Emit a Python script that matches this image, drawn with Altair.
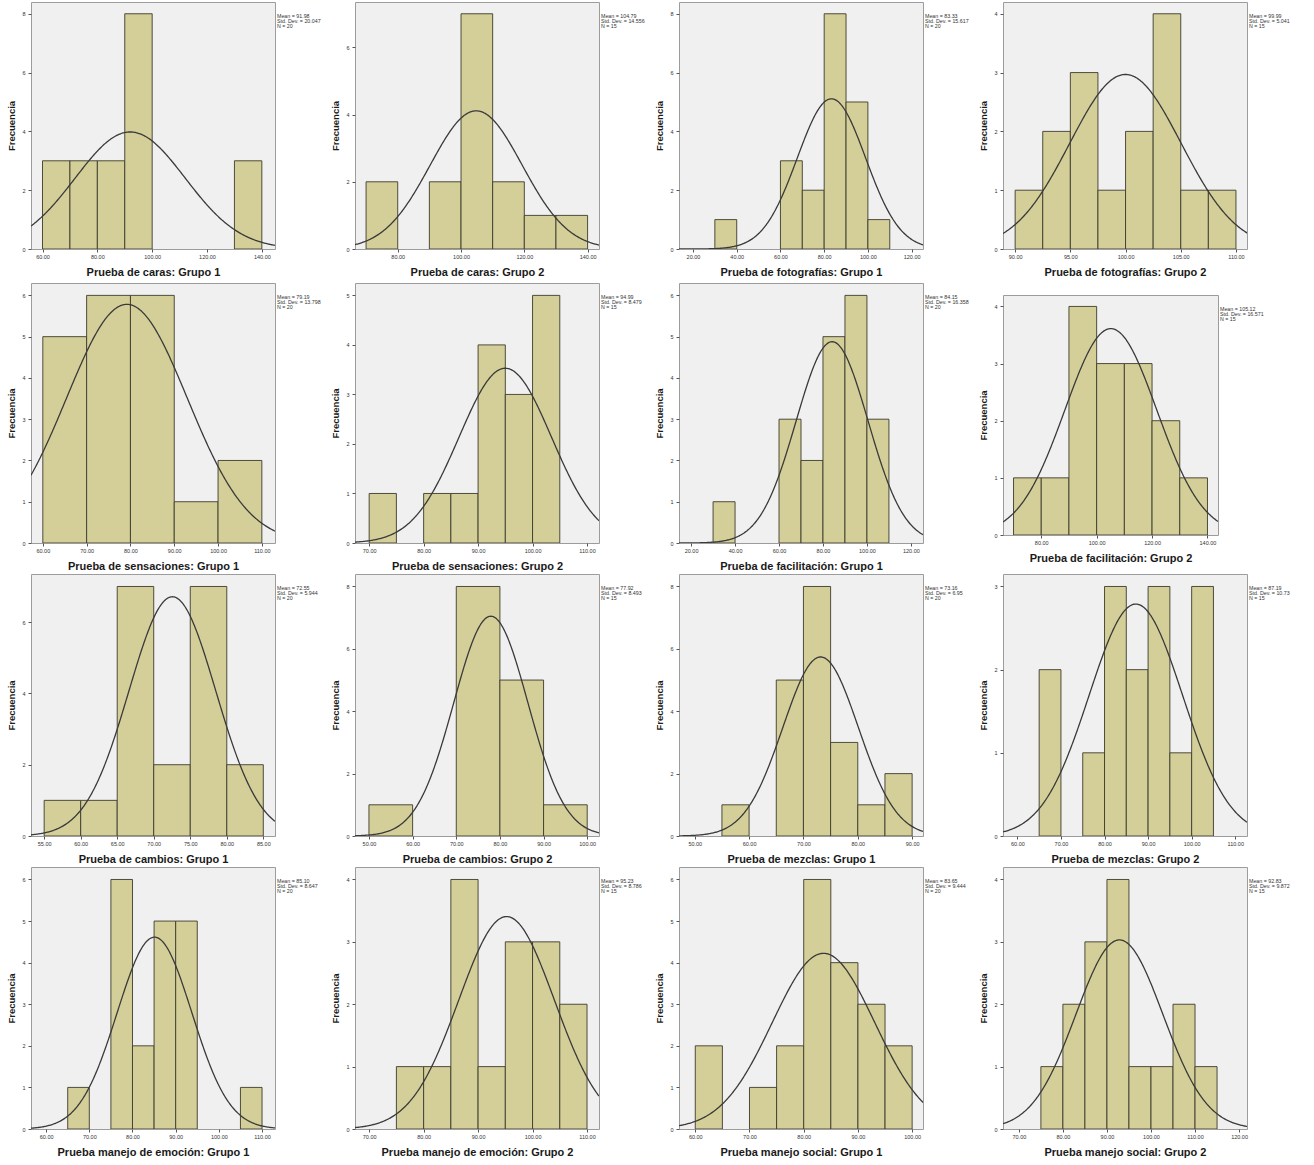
import altair as alt
import pandas as pd

# ---- Histogram data for each test (SPSS-style output) ----
TITLES = [
    "Prueba de caras: Grupo 1", "Prueba de caras: Grupo 2",
    "Prueba de fotografías: Grupo 1", "Prueba de fotografías: Grupo 2",
    "Prueba de sensaciones: Grupo 1", "Prueba de sensaciones: Grupo 2",
    "Prueba de facilitación: Grupo 1", "Prueba de facilitación: Grupo 2",
    "Prueba de cambios: Grupo 1", "Prueba de cambios: Grupo 2",
    "Prueba de mezclas: Grupo 1", "Prueba de mezclas: Grupo 2",
    "Prueba manejo de emoción: Grupo 1", "Prueba manejo de emoción: Grupo 2",
    "Prueba manejo social: Grupo 1", "Prueba manejo social: Grupo 2",
]
MEAN_TEXT = ["91.98", "104.79", "83.33", "99.99", "79.19", "94.99", "84.15", "105.12",
             "72.55", "77.92", "73.16", "87.19", "85.10", "95.23", "83.65", "92.83"]
STD_TEXT = ["20.047", "14.556", "15.617", "5.041", "13.798", "8.479", "16.358", "16.571",
            "5.944", "8.493", "6.95", "10.73", "8.647", "8.786", "9.444", "9.872"]
N_CASES = [20, 15, 20, 15, 20, 15, 20, 15, 20, 15, 20, 15, 20, 15, 20, 15]
BIN_WIDTHS = [10, 10, 10, 2.5, 10, 5, 10, 10, 5, 10, 5, 5, 5, 5, 5, 5]
BIN_STARTS = [
    [60, 70, 80, 90, 130],
    [70, 90, 100, 110, 120, 130],
    [30, 60, 70, 80, 90, 100],
    [90, 92.5, 95, 97.5, 100, 102.5, 105, 107.5],
    [60, 70, 80, 90, 100],
    [70, 80, 85, 90, 95, 100],
    [30, 60, 70, 80, 90, 100],
    [70, 80, 90, 100, 110, 120, 130],
    [55, 60, 65, 70, 75, 80],
    [50, 70, 80, 90],
    [55, 65, 70, 75, 80, 85],
    [65, 75, 80, 85, 90, 95, 100],
    [65, 75, 80, 85, 90, 105],
    [75, 80, 85, 90, 95, 100, 105],
    [60, 70, 75, 80, 85, 90, 95],
    [75, 80, 85, 90, 95, 100, 105, 110],
]
COUNTS = [
    [3, 3, 3, 8, 3],
    [2, 2, 7, 2, 1, 1],
    [1, 3, 2, 8, 5, 1],
    [1, 2, 3, 1, 2, 4, 1, 1],
    [5, 6, 6, 1, 2],
    [1, 1, 1, 4, 3, 5],
    [1, 3, 2, 5, 6, 3],
    [1, 1, 4, 3, 3, 2, 1],
    [1, 1, 7, 2, 7, 2],
    [1, 8, 5, 1],
    [1, 5, 8, 3, 1, 2],
    [2, 1, 3, 2, 3, 1, 3],
    [1, 6, 2, 5, 5, 1],
    [1, 1, 4, 1, 3, 3, 2],
    [2, 1, 2, 6, 4, 3, 2],
    [1, 2, 3, 4, 1, 1, 2, 1],
]
X_DOMAINS = [
    [55.8, 144.8], [66.5, 143.6], [13.6, 125.2], [88.9, 111.0],
    [57.3, 113.0], [67.4, 112.2], [14.5, 125.5], [66.2, 143.8],
    [53.2, 86.6], [46.8, 102.7], [47.1, 92.0], [56.7, 112.7],
    [56.5, 113.0], [67.4, 112.2], [57.0, 102.0], [66.4, 121.8],
]
X_TICKS = [
    [60, 80, 100, 120, 140], [80, 100, 120, 140],
    [20, 40, 60, 80, 100, 120], [90, 95, 100, 105, 110],
    [60, 70, 80, 90, 100, 110], [70, 80, 90, 100, 110],
    [20, 40, 60, 80, 100, 120], [80, 100, 120, 140],
    [55, 60, 65, 70, 75, 80, 85], [50, 60, 70, 80, 90, 100],
    [50, 60, 70, 80, 90], [60, 70, 80, 90, 100, 110],
    [60, 70, 80, 90, 100, 110], [70, 80, 90, 100, 110],
    [60, 70, 80, 90, 100], [70, 80, 90, 100, 110, 120],
]
Y_TICK_STEPS = [2, 2, 2, 1, 1, 1, 1, 1, 2, 2, 2, 1, 1, 1, 1, 1]

# ---- Styling ----
FONT = "Liberation Sans"
BAR_FILL = "#d4ce98"
BAR_EDGE = "#3c3b2c"
CURVE = "#3a3a3a"
PLOT_BG = "#f0f0f0"
FRAME = "#9c9c9c"

PANEL_W = 244
ROW_H = [247, 260, 262, 262]


def panel(i, width, height):
    lo, hi = X_DOMAINS[i]
    bw = BIN_WIDTHS[i]
    n = N_CASES[i]
    m = float(MEAN_TEXT[i])
    s = float(STD_TEXT[i])
    y_max = max(COUNTS[i]) * 1.05
    step = Y_TICK_STEPS[i]
    y_ticks = list(range(0, int(y_max) + 1, step))

    xs = alt.Scale(domain=[lo, hi], nice=False, zero=False)
    ys = alt.Scale(domain=[0, y_max], nice=False)
    x_axis = alt.Axis(
        values=X_TICKS[i], format=".2f", labelFontSize=5.5, labelColor="#333333",
        tickColor="#555555", tickSize=3, labelPadding=2, domain=False, grid=False,
        labelFlush=False, labelOverlap=False, title=TITLES[i], titleFontSize=11,
        titleFontWeight="bold", titleColor="#1a1a1a", titlePadding=7,
    )
    y_axis = alt.Axis(
        values=y_ticks, format="d", labelFontSize=5.5, labelColor="#333333",
        tickColor="#555555", tickSize=3, labelPadding=3, domain=False, grid=False,
        title="Frecuencia", titleFontSize=9.5, titleFontWeight="bold",
        titleColor="#1a1a1a", titlePadding=5,
    )

    bins = pd.DataFrame({
        "start": BIN_STARTS[i],
        "end": [b + bw for b in BIN_STARTS[i]],
        "count": COUNTS[i],
        "zero": [0] * len(COUNTS[i]),
    })
    bars = alt.Chart(bins).mark_rect(
        fill=BAR_FILL, stroke=BAR_EDGE, strokeWidth=0.9, clip=True
    ).encode(
        x=alt.X("start:Q", scale=xs, axis=x_axis),
        x2="end:Q",
        y=alt.Y("count:Q", scale=ys, axis=y_axis),
        y2="zero:Q",
    )

    # fitted normal curve scaled to counts: N * bin width * pdf(x)
    curve = alt.Chart(
        alt.sequence(lo, hi + (hi - lo) / 300, (hi - lo) / 300, as_="x")
    ).transform_calculate(
        freq=f"{n} * {bw} * exp(-0.5 * pow((datum.x - {m}) / {s}, 2)) / ({s} * sqrt(2 * PI))"
    ).mark_line(color=CURVE, strokeWidth=1.3, clip=True).encode(
        x=alt.X("x:Q", scale=xs, axis=x_axis),
        y=alt.Y("freq:Q", scale=ys, axis=y_axis),
    )

    stats = alt.Chart(pd.DataFrame({
        "label": [f"Mean = {MEAN_TEXT[i]}\nStd. Dev. = {STD_TEXT[i]}\nN = {n}"]
    })).mark_text(
        align="left", baseline="top", fontSize=5.3, lineHeight=5, lineBreak="\n",
        color="#333333", font=FONT,
    ).encode(x=alt.value(width + 2), y=alt.value(12), text="label:N")

    return alt.layer(bars, curve, stats).properties(
        width=width, height=height,
        view=alt.ViewBackground(fill=PLOT_BG, stroke=FRAME, strokeWidth=1),
    )


rows = []
for r in range(4):
    cells = []
    for c in range(4):
        i = r * 4 + c
        if i == 7:
            spacer = alt.Chart(pd.DataFrame({"v": [0]})).mark_point(opacity=0).encode(
                x=alt.value(0), y=alt.value(0)
            ).properties(
                width=215, height=1,
                view=alt.ViewBackground(fill="transparent", stroke="transparent"),
            )
            cells.append(alt.vconcat(spacer, panel(i, 215, 240), spacing=11, bounds="flush"))
        else:
            cells.append(panel(i, PANEL_W, ROW_H[r]))
    rows.append(alt.hconcat(*cells, spacing=80, bounds="flush"))

chart = alt.vconcat(*rows, spacing=1).properties(
    padding={"left": 6, "top": 1, "right": 5, "bottom": 5},
    background="white",
).configure(font=FONT).configure_view(stroke="transparent")

chart.save("out.html", embed_options={"renderer": "svg", "actions": False})
